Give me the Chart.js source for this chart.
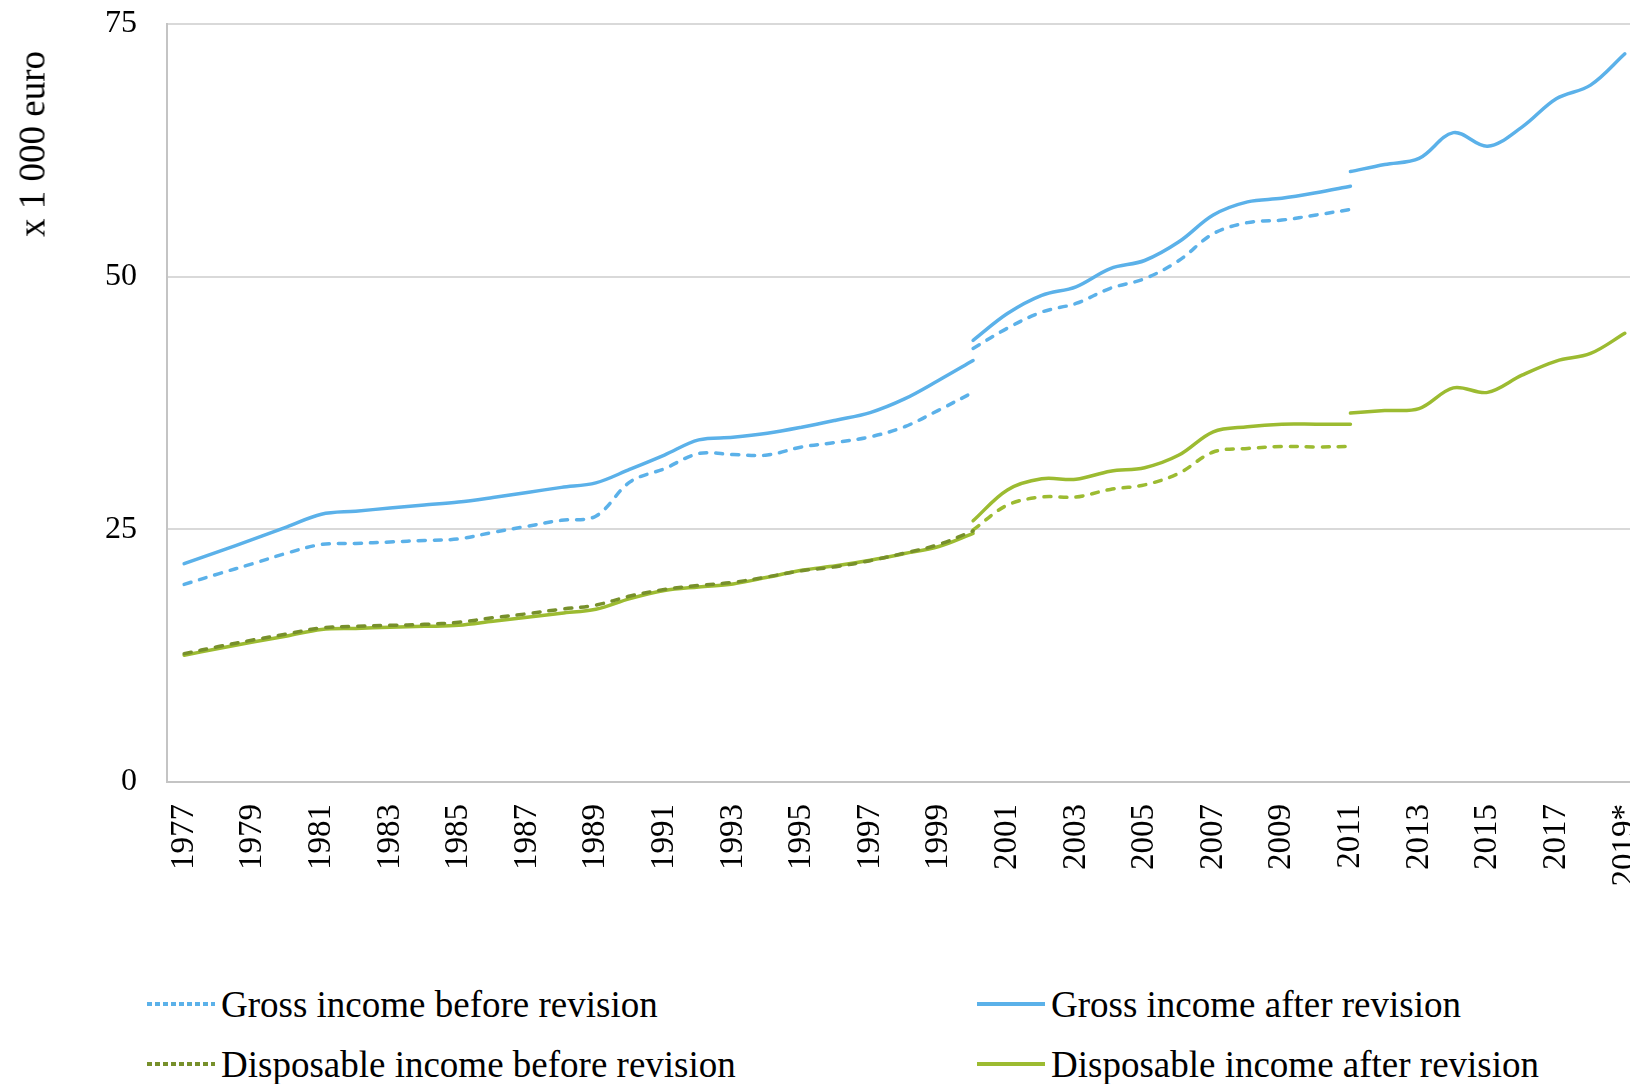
<!DOCTYPE html>
<html>
<head>
<meta charset="utf-8">
<script src="https://cdn.jsdelivr.net/npm/chart.js@4.4.1/dist/chart.umd.min.js"></script>
<style>
  html, body { margin: 0; padding: 0; background: #fff; overflow: hidden; }
  body { width: 1630px; height: 1084px; position: relative; font-family: "Liberation Serif", serif; }
  #wrap { position: absolute; left: 0; top: 0; width: 1650px; height: 900px; }
  #ytitle {
    position: absolute; left: 32px; top: 144px; font-size: 37px; color: #000;
    transform: translate(-50%, -50%) rotate(-90deg); white-space: nowrap;
  }
  .item { position: absolute; display: flex; align-items: center; font-size: 37px; color: #000; white-space: nowrap; }
  .item svg { margin-right: 4px; }
</style>
</head>
<body>
<div id="wrap"><canvas id="income_chart"></canvas></div>
<div id="ytitle">x 1 000 euro</div>
<div id="legend"></div>
<script>
const years = [
  '1977','1978','1979','1980','1981','1982','1983','1984','1985','1986','1987','1988',
  '1989','1990','1991','1992','1993','1994','1995','1996','1997','1998','1999','2000',
  '2001','2002','2003','2004','2005','2006','2007','2008','2009','2010','2011','2012',
  '2013','2014','2015','2016','2017','2018','2019*'
];

// series, x 1 000 euro; each block starts at the year in its name
const grossBefore1977 = [19.55, 20.6, 21.6, 22.65, 23.5, 23.6, 23.75, 23.9, 24.05, 24.7, 25.3, 25.9,
  26.3, 29.7, 31.0, 32.5, 32.4, 32.35, 33.15, 33.6, 34.15, 35.15, 36.8, 38.55];
const grossBefore2000 = [42.9, 44.9, 46.5, 47.35, 48.85, 49.8, 51.6, 54.25, 55.35, 55.6, 56.1, 56.65];

const grossAfter1977 = [21.6, 22.8, 24.0, 25.25, 26.5, 26.8, 27.1, 27.4, 27.7, 28.15, 28.65, 29.15,
  29.6, 30.95, 32.35, 33.85, 34.1, 34.5, 35.1, 35.8, 36.55, 37.9, 39.75, 41.7];
const grossAfter2000 = [43.7, 46.35, 48.15, 49.0, 50.8, 51.6, 53.45, 56.1, 57.4, 57.75, 58.3, 58.95];
const grossAfter2011 = [60.4, 61.1, 61.7, 64.25, 62.9, 64.8, 67.6, 68.95, 72.05];

const dispBefore1977 = [12.7, 13.4, 14.05, 14.65, 15.25, 15.4, 15.5, 15.6, 15.8, 16.25, 16.65, 17.1,
  17.5, 18.4, 19.05, 19.45, 19.75, 20.3, 20.9, 21.3, 21.9, 22.65, 23.5, 24.85];
const dispBefore2000 = [24.95, 27.4, 28.2, 28.2, 28.95, 29.4, 30.55, 32.65, 33.0, 33.2, 33.15, 33.2];

const dispAfter1977 = [12.55, 13.2, 13.85, 14.45, 15.1, 15.2, 15.3, 15.4, 15.5, 15.9, 16.3, 16.7,
  17.1, 18.15, 18.95, 19.3, 19.6, 20.25, 20.95, 21.4, 21.95, 22.6, 23.3, 24.6];
const dispAfter2000 = [25.85, 28.9, 30.0, 29.95, 30.75, 31.1, 32.35, 34.65, 35.15, 35.4, 35.4, 35.4];
const dispAfter2011 = [36.5, 36.75, 36.95, 39.0, 38.55, 40.25, 41.65, 42.4, 44.4];

const yTicks = [0, 25, 50, 75];

const BLUE = '#5BB1E9';
const GREEN = '#9CBB31';
const OLIVE = '#77902B';
const FONT = '"Liberation Serif", serif';

// pad a block with nulls so it sits on its own years
function place(values, startYear) {
  const out = years.map(() => null);
  const i0 = years.indexOf(String(startYear));
  values.forEach((v, k) => { out[i0 + k] = v; });
  return out;
}

function line(label, values, start, color, dashed) {
  return {
    label: label,
    data: place(values, start),
    borderColor: color,
    backgroundColor: color,
    borderWidth: 3.5,
    borderDash: dashed ? [7, 9] : [],
    borderCapStyle: 'round',
    pointRadius: 0,
    pointHoverRadius: 0,
    tension: 0.35,
    fill: false,
    spanGaps: false,
  };
}

const legendItems = [
  { label: 'Gross income before revision', color: BLUE, dashed: true, x: 145, y: 1004 },
  { label: 'Gross income after revision', color: BLUE, dashed: false, x: 975, y: 1004 },
  { label: 'Disposable income before revision', color: OLIVE, dashed: true, x: 145, y: 1064 },
  { label: 'Disposable income after revision', color: GREEN, dashed: false, x: 975, y: 1064 },
];

document.addEventListener('DOMContentLoaded', function () {
  const el = document.getElementById('income_chart');

  new Chart(el, {
    type: 'line',
    data: {
      labels: years,
      datasets: [
        line('Disposable income before revision', dispBefore1977, 1977, OLIVE, true),
        line('Disposable income before revision', dispBefore2000, 2000, GREEN, true),
        line('Disposable income after revision', dispAfter1977, 1977, GREEN, false),
        line('Disposable income after revision', dispAfter2000, 2000, GREEN, false),
        line('Disposable income after revision', dispAfter2011, 2011, GREEN, false),
        line('Gross income before revision', grossBefore1977, 1977, BLUE, true),
        line('Gross income before revision', grossBefore2000, 2000, BLUE, true),
        line('Gross income after revision', grossAfter1977, 1977, BLUE, false),
        line('Gross income after revision', grossAfter2000, 2000, BLUE, false),
        line('Gross income after revision', grossAfter2011, 2011, BLUE, false),
      ]
    },
    options: {
      responsive: true,
      maintainAspectRatio: false,
      animation: false,
      layout: { padding: { left: 0, right: 8, top: 24, bottom: 0 } },
      plugins: {
        legend: { display: false },
        tooltip: { enabled: false },
      },
      scales: {
        x: {
          type: 'category',
          offset: true,
          grid: { display: false, drawTicks: false },
          border: { display: true, color: '#c4c4c4', width: 2 },
          ticks: {
            autoSkip: false,
            maxRotation: 90,
            minRotation: 90,
            padding: 22,
            color: '#000',
            font: { family: FONT, size: 33 },
            callback: (val, idx) => idx % 2 === 0 ? years[idx] : '',
          },
          afterFit: (scale) => {
            scale.height = 118;
            scale.paddingLeft = 0;
            scale.paddingRight = 0;
          },
        },
        y: {
          min: 0,
          max: 75,
          afterBuildTicks: (scale) => { scale.ticks = yTicks.map(v => ({ value: v })); },
          grid: { color: '#d9d9d9', lineWidth: 2, drawTicks: false },
          border: { display: true, color: '#c4c4c4', width: 2 },
          ticks: {
            padding: 30,
            color: '#000',
            font: { family: FONT, size: 32 },
          },
          afterFit: (scale) => {
            scale.width = 167;
            scale.paddingTop = 0;
            scale.paddingBottom = 0;
          },
        }
      }
    }
  });

  // legend in two columns under the plot
  const box = document.getElementById('legend');
  legendItems.forEach((it) => {
    const div = document.createElement('div');
    div.className = 'item';
    div.style.left = it.x + 'px';
    div.style.top = (it.y - 22) + 'px';
    div.style.height = '44px';
    const dash = it.dashed ? ' stroke-dasharray="5 3"' : '';
    div.innerHTML =
      '<svg width="72" height="8"><line x1="2" y1="4" x2="70" y2="4" stroke="' + it.color +
      '" stroke-width="4"' + dash + '/></svg><span>' + it.label + '</span>';
    box.appendChild(div);
  });
});
</script>
</body>
</html>
